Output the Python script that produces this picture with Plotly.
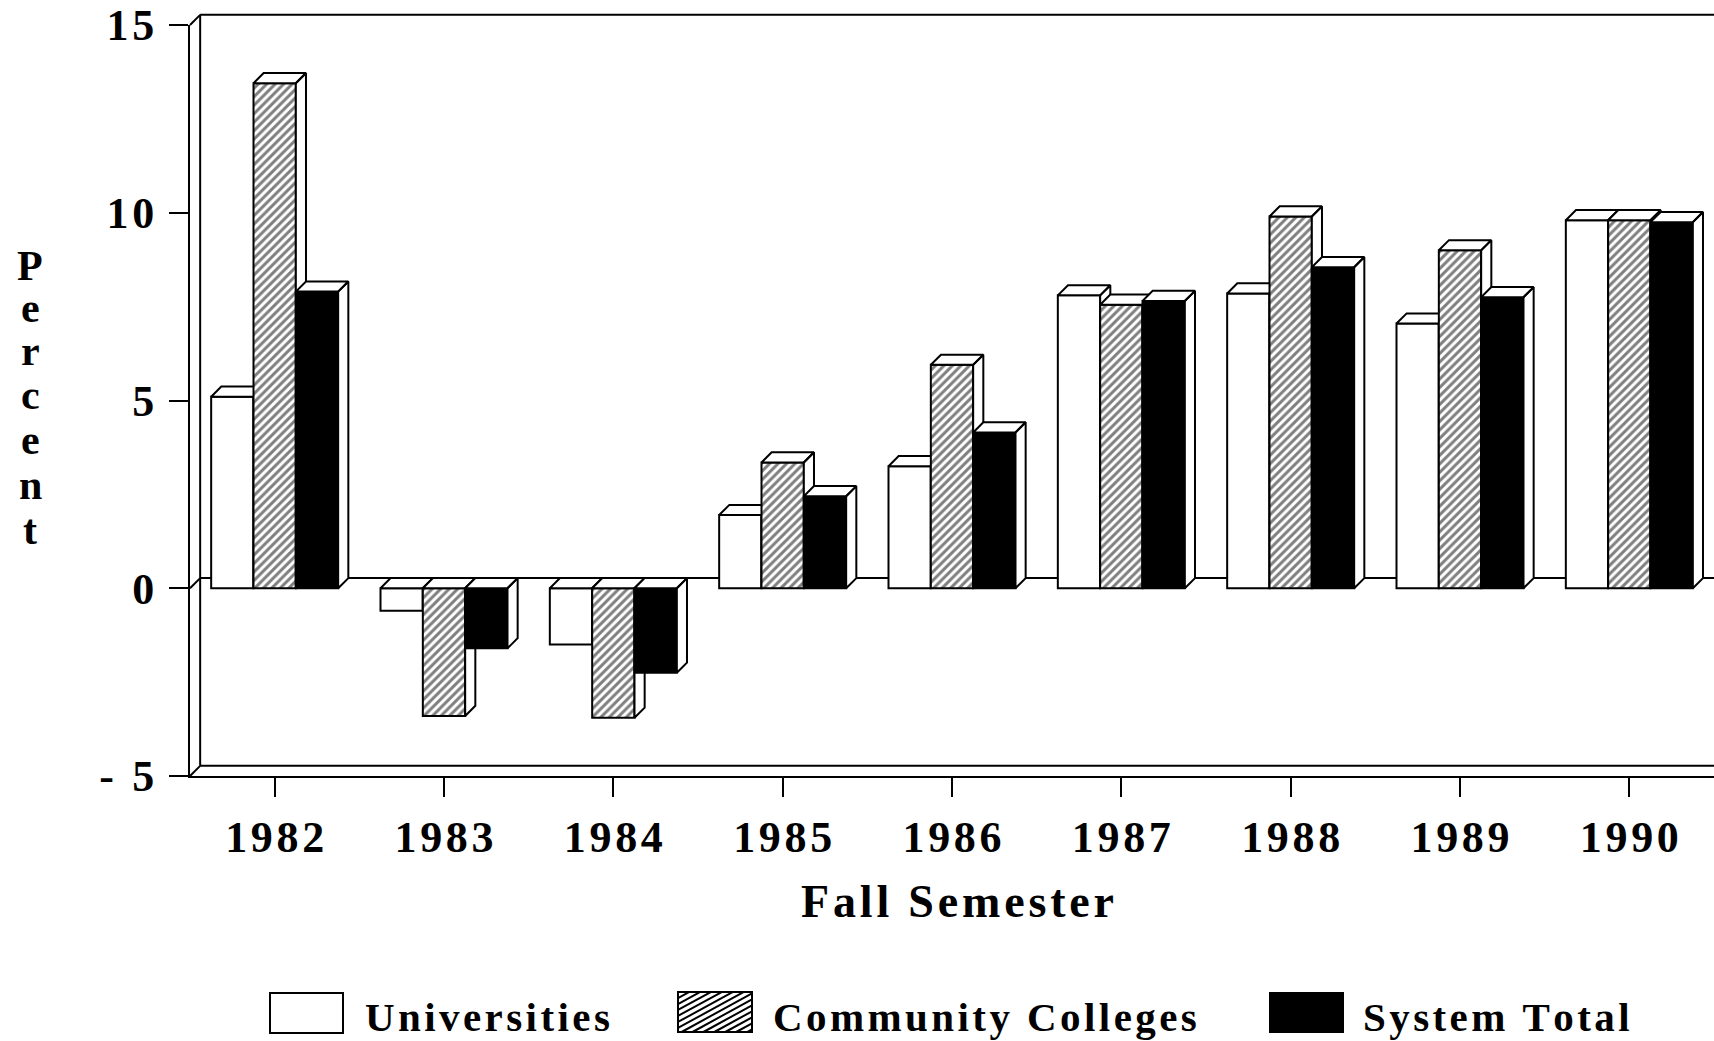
import plotly.graph_objects as go

# ---------------- data ----------------
years = ['1982', '1983', '1984', '1985', '1986', '1987', '1988', '1989', '1990']
universities = [5.1, -0.6, -1.5, 1.95, 3.25, 7.8, 7.85, 7.05, 9.8]
community_colleges = [13.45, -3.4, -3.45, 3.35, 5.95, 7.55, 9.9, 9.0, 9.8]
system_total = [7.9, -1.6, -2.25, 2.45, 4.15, 7.65, 8.55, 7.75, 9.75]
series_names = ['Universities', 'Community Colleges', 'System Total']
y_tick_values = [-5, 0, 5, 10, 15]
y_tick_labels = ['- 5', '0', '5', '10', '15']
x_title = 'Fall Semester'
y_title = 'Percent'

# ---------------- geometry / style ----------------
W, H = 1714, 1041
L, R, T, B = 190, 1714, 25, 776          # plot area in pixels
XR = [-0.5, 8.5]
YR = [-5, 15]
BAR_W = 0.25
DX, DY = 0.06, 0.27                      # 3-D depth in data units
HS = '\u200a'
FONT = 'Liberation Serif, Times New Roman, serif'
FS = 43


def spaced(s):
    return HS.join(s)


def pxp(px, py):
    return (px - L) / (R - L), (B - py) / (B - T)


def dp(x, y):
    return (x - XR[0]) / (XR[1] - XR[0]), (y - YR[0]) / (YR[1] - YR[0])


def font(size=FS):
    return dict(family=FONT, size=size, color='black', weight='bold')


styles = [
    dict(color='white'),
    dict(color='white', pattern=dict(shape='/', fgcolor='black', bgcolor='white', size=6, solidity=0.5)),
    dict(color='black'),
]
series = [universities, community_colleges, system_total]

fig = go.Figure()
idx = list(range(len(years)))
for k, vals in enumerate(series):
    xa = 'x' if k == 0 else 'x%d' % (k + 1)
    ya = 'y' if k == 0 else 'y%d' % (k + 1)
    off = -0.375 + k * BAR_W
    marker = dict(styles[k])
    marker['line'] = dict(color='black', width=2)
    fig.add_trace(go.Bar(x=idx, y=vals, width=BAR_W, offset=off, marker=marker,
                         name=series_names[k], showlegend=False, xaxis=xa, yaxis=ya))
    fx, fy = [], []
    for i, v in enumerate(vals):
        x0 = i + off
        x1 = x0 + BAR_W
        top = max(v, 0)
        bot = min(v, 0)
        fx += [x0, x0 + DX, x1 + DX, x1, x0, None]
        fy += [top, top + DY, top + DY, top, top, None]
        fx += [x1, x1 + DX, x1 + DX, x1, x1, None]
        fy += [bot, bot + DY, top + DY, top, bot, None]
    fig.add_trace(go.Scatter(x=fx, y=fy, mode='lines', fill='toself', fillcolor='white',
                             line=dict(color='black', width=2), showlegend=False,
                             hoverinfo='skip', xaxis=xa, yaxis=ya))

# ---------------- frame (back wall) ----------------
shapes = []


def line_d(xa_, ya_, xb_, yb_, w=2):
    p0 = dp(xa_, ya_)
    p1 = dp(xb_, yb_)
    shapes.append(dict(type='line', xref='paper', yref='paper', x0=p0[0], y0=p0[1],
                       x1=p1[0], y1=p1[1], line=dict(color='black', width=w), layer='below'))


x_wall = XR[0] + DX
line_d(x_wall, YR[0] + DY, x_wall, YR[1] + DY)
line_d(x_wall, YR[1] + DY, XR[1], YR[1] + DY)
line_d(x_wall, YR[0] + DY, XR[1], YR[0] + DY)
line_d(x_wall, DY, XR[1], DY)
for yv in (YR[0], 0, YR[1]):
    line_d(XR[0], yv, x_wall, yv + DY)

# ---------------- legend ----------------
legend_boxes = [(270, 343, 993, 1033), (678, 752, 992, 1032), (1270, 1343, 993, 1032)]
legend_text_x = [363, 771, 1361]
legend_fill = ['white', 'white', 'black']
LFS = 41
for (bx0, bx1, by0, by1), fc in zip(legend_boxes, legend_fill):
    a = pxp(bx0, by1)
    b = pxp(bx1, by0)
    shapes.append(dict(type='rect', xref='paper', yref='paper', x0=a[0], y0=a[1], x1=b[0], y1=b[1],
                       fillcolor=fc, line=dict(color='black', width=2)))
# hatch inside community-college swatch
bx0, bx1, by0, by1 = legend_boxes[1]
m, step = 0.55, 6.0
path = ''
c = by0 + m * bx0
while c < by1 + m * bx1:
    xa_ = max(bx0, (c - by1) / m)
    xb_ = min(bx1, (c - by0) / m)
    if xb_ > xa_:
        p0 = pxp(xa_, c - m * xa_)
        p1 = pxp(xb_, c - m * xb_)
        path += 'M%.5f,%.5f L%.5f,%.5f ' % (p0[0], p0[1], p1[0], p1[1])
    c += step
shapes.append(dict(type='path', xref='paper', yref='paper', path=path,
                   line=dict(color='black', width=2)))

annotations = []
for name, tx in zip(series_names, legend_text_x):
    p = pxp(tx, 1031 - 0.3375 * LFS)
    annotations.append(dict(text=spaced(name), x=p[0], y=p[1], xref='paper', yref='paper',
                            xanchor='left', yanchor='middle', showarrow=False, font=font(LFS)))

# x title
TFS = 46
p = pxp(957, 917 - 0.3375 * TFS)
annotations.append(dict(text=spaced(x_title), x=p[0], y=p[1], xref='paper', yref='paper',
                        xanchor='center', yanchor='middle', showarrow=False, font=font(TFS)))
# y title, stacked letters
baselines = [280, 322, 365, 409, 454, 499, 544]
for ch, bl in zip(y_title, baselines):
    p = pxp(30, bl - 0.3375 * 42)
    annotations.append(dict(text=ch, x=p[0], y=p[1], xref='paper', yref='paper',
                            xanchor='center', yanchor='middle', showarrow=False, font=font(42)))

axis_common = dict(showgrid=False, zeroline=False, showline=True, linecolor='black', linewidth=2,
                   ticks='outside', ticklen=19, tickwidth=2, tickcolor='black')

fig.update_layout(
    width=W, height=H,
    margin=dict(l=L, r=W - R, t=T, b=H - B, pad=0),
    paper_bgcolor='white', plot_bgcolor='white',
    showlegend=False,
    xaxis=dict(range=XR, tickvals=idx, ticktext=[spaced(y) for y in years],
               ticklabelstandoff=2, tickfont=font(44), **axis_common),
    yaxis=dict(range=YR, tickvals=y_tick_values, ticktext=[spaced(t) for t in y_tick_labels],
               ticklabelstandoff=6, tickfont=font(44), **axis_common),
    xaxis2=dict(overlaying='x', range=XR, visible=False),
    yaxis2=dict(overlaying='y', range=YR, visible=False),
    xaxis3=dict(overlaying='x', range=XR, visible=False),
    yaxis3=dict(overlaying='y', range=YR, visible=False),
    shapes=shapes,
    annotations=annotations,
)

fig.write_html('out.html', config={'displayModeBar': False},
               post_script="document.body.style.margin='0';document.body.style.overflow='hidden';")
